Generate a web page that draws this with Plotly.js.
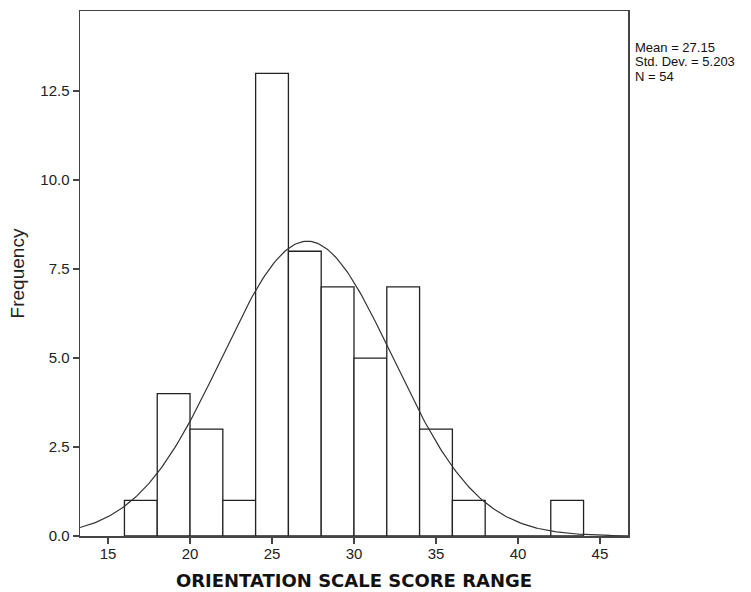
<!DOCTYPE html>
<html>
<head>
<meta charset="utf-8">
<script src="https://cdn.plot.ly/plotly-3.0.1.min.js"></script>
<style>html,body{margin:0;padding:0;background:#fff;}#chart{width:751px;height:592px;}</style>
</head>
<body>
<div id="chart"></div>
<script>
// Histogram bins (centers) and frequencies
const binCenters = [17, 19, 21, 23, 25, 27, 29, 31, 33, 35, 37, 39, 41, 43];
const frequencies = [1, 4, 3, 1, 13, 8, 7, 5, 7, 3, 1, 0, 0, 1];
const binWidth = 2;
// Summary statistics shown on the chart
const meanValue = 27.15;
const stdDev = 5.203;
const nCount = 54;
const xTickVals = [15, 20, 25, 30, 35, 40, 45];
const yTickVals = [0, 2.5, 5, 7.5, 10, 12.5];
const xRange = [13.29, 46.71];
const statLines = ['Mean = ' + meanValue, 'Std. Dev. = ' + stdDev, 'N = ' + nCount];

// Normal curve fitted from the displayed mean / std dev / N
const curveX = [];
const curveY = [];
for (let i = 0; i <= 300; i++) {
  const x = xRange[0] + (xRange[1] - xRange[0]) * i / 300;
  const z = (x - meanValue) / stdDev;
  curveX.push(x);
  curveY.push(nCount * binWidth * Math.exp(-0.5 * z * z) / (stdDev * Math.sqrt(2 * Math.PI)));
}

const traces = [
  {
    type: 'bar', x: binCenters, y: frequencies, width: binWidth,
    marker: {color: '#ffffff', line: {color: '#222222', width: 1.3}},
    hoverinfo: 'x+y', showlegend: false
  },
  {
    type: 'scatter', mode: 'lines', x: curveX, y: curveY,
    line: {color: '#333333', width: 1.2}, showlegend: false, hoverinfo: 'skip'
  }
];

const layout = {
  width: 751, height: 592,
  margin: {l: 80, r: 123, t: 11, b: 56},
  paper_bgcolor: '#ffffff', plot_bgcolor: '#ffffff',
  font: {family: 'Liberation Sans, Arial, sans-serif', size: 15, color: '#222'},
  bargap: 0,
  xaxis: {
    range: xRange, tickvals: xTickVals, ticktext: xTickVals.map(String),
    showgrid: false, zeroline: false,
    showline: true, linecolor: '#444', linewidth: 1.5, mirror: true,
    ticks: 'outside', ticklen: 6, tickwidth: 1.5, tickcolor: '#444',
    ticklabelstandoff: -3,
    tickfont: {size: 15, color: '#222'},
    title: {text: '<b>ORIENTATION SCALE SCORE RANGE</b>',
            font: {family: 'DejaVu Sans, sans-serif', size: 18, color: '#111'}, standoff: 14}
  },
  yaxis: {
    range: [0, 14.75], tickvals: yTickVals, ticktext: yTickVals.map(v => v.toFixed(1)),
    showgrid: false, zeroline: false,
    showline: true, linecolor: '#444', linewidth: 1.5, mirror: true,
    ticks: 'outside', ticklen: 6, tickwidth: 1.5, tickcolor: '#444',
    tickfont: {size: 15, color: '#222'},
    title: {text: 'Frequency', font: {size: 19, color: '#222'}, standoff: 10}
  },
  annotations: statLines.map((t, i) => ({
    xref: 'paper', yref: 'paper', x: 1.0, y: 1, xshift: 6, yshift: -36 - 14.5 * i,
    xanchor: 'left', yanchor: 'middle', align: 'left', showarrow: false,
    borderpad: 0,
    text: t, font: {size: 13, color: '#111'}
  }))
};

Plotly.newPlot('chart', traces, layout, {displayModeBar: false, staticPlot: true});
</script>
</body>
</html>
